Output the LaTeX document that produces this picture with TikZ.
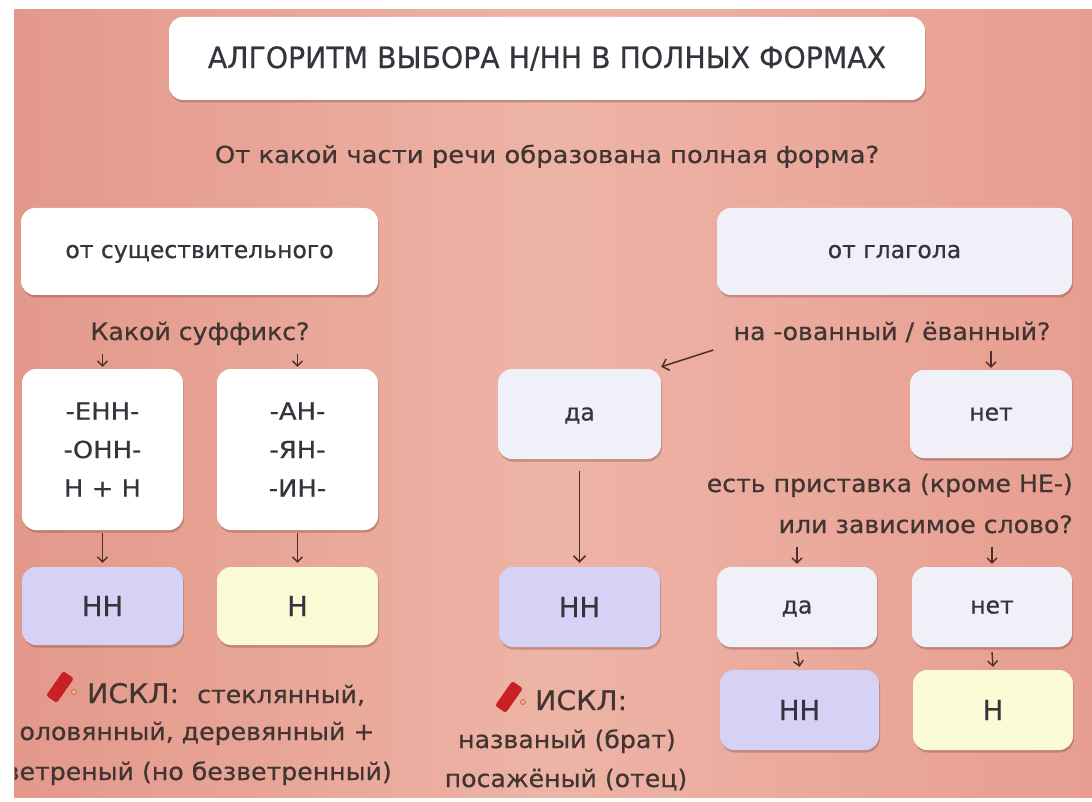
\documentclass[tikz,border=0pt]{standalone}
\usepackage{fontspec}
\setmainfont{DejaVu Sans}[FakeBold=0.6]
\newfontfamily\lblfont{DejaVu Sans}[FakeStretch=1.05,FakeBold=0.6]
\newfontfamily\subfont{DejaVu Sans}[FakeStretch=1.1,FakeBold=0.6]
\newfontfamily\ttlfont{DejaVu Sans}[FakeStretch=0.96,FakeBold=0.5]
\usetikzlibrary{arrows.meta,shadows}
\definecolor{bgl}{RGB}{227,152,138}
\definecolor{bgm}{RGB}{237,180,166}
\definecolor{bgr}{RGB}{231,158,144}
\definecolor{lboxc}{RGB}{240,240,248}
\definecolor{nnc}{RGB}{214,210,246}
\definecolor{nc}{RGB}{250,250,212}
\definecolor{txt}{RGB}{66,52,50}
\definecolor{btxt}{RGB}{52,52,60}
\definecolor{arrc}{RGB}{78,46,42}
\definecolor{shc}{RGB}{120,70,65}
\definecolor{iconred}{RGB}{200,32,36}
\definecolor{dotc}{RGB}{240,170,160}
\begin{document}
\begin{tikzpicture}[x=1pt,y=-1pt,
  box/.style={rectangle, rounded corners=14pt, inner sep=0pt, align=center, text=btxt,
    font=\fontsize{23.5}{28}\selectfont,
    drop shadow={shadow xshift=1pt, shadow yshift=-2.5pt, opacity=0.35, fill=shc}},
  wbox/.style={box, fill=white},
  lbox/.style={box, fill=lboxc},
  word/.style={text height=15pt, text depth=2pt},
  sufbox/.style={wbox, minimum width=161pt, minimum height=161pt, font=\subfont\fontsize{23.5}{38.5}\selectfont},
  nnbox/.style={box, fill=nnc, font=\fontsize{27.5}{33}\selectfont},
  nbox/.style={box, fill=nc, font=\fontsize{27.5}{33}\selectfont},
  lbl/.style={inner sep=0pt, text=txt, font=\lblfont\fontsize{24}{28}\selectfont, anchor=base},
  iskl/.style={lbl, anchor=base west, font=\lblfont\fontsize{27}{32}\selectfont},
  arr/.style={draw=arrc, line width=1.4pt, -{Straight Barb[length=5pt,width=10pt]}},
  arrbig/.style={draw=arrc, line width=1.5pt, -{Straight Barb[length=6pt,width=12pt]}},
  eraser/.style={fill=iconred, rounded corners=2.5pt, minimum width=30pt, minimum height=13pt, inner sep=0pt, rotate=55},
  edot/.style={circle, draw=orange!80!black, fill=dotc, line width=0.6pt, inner sep=0pt, minimum size=5pt}
]
\useasboundingbox (0,0) rectangle (1092,802);
\fill[white] (0,0) rectangle (1092,802);
\shade[left color=bgl, right color=bgr, middle color=bgm] (14.6,10) rectangle (1092,797);

% title and question
\node[wbox, minimum width=756pt, minimum height=83pt, font=\ttlfont\fontsize{29.5}{35}\selectfont] (title) at (547,58.5) {АЛГОРИТМ ВЫБОРА Н/НН В ПОЛНЫХ ФОРМАХ};
\node[lbl, font=\subfont\fontsize{23.5}{28}\selectfont] (q0) at (547,163) {От какой части речи образована полная форма?};

% left branch
\node[wbox, word, minimum width=357pt, minimum height=87pt] (noun) at (199.5,251.5) {от существительного};
\node[lbl] (q1) at (200,340) {Какой суффикс?};
\node[sufbox] (enn) at (102.5,449.5) {-ЕНН-\\-ОНН-\\Н + Н};
\node[sufbox] (an) at (297.5,449.5) {-АН-\\-ЯН-\\-ИН-};
\node[nnbox, minimum width=161pt, minimum height=78pt] (nn1) at (102.5,606) {НН};
\node[nbox, minimum width=161pt, minimum height=78pt] (n1) at (297.5,606) {Н};

% right branch
\node[lbox, word, minimum width=355pt, minimum height=87pt] (verb) at (894.5,251.5) {от глагола};
\node[lbl] (q2) at (892,340) {на -ованный / ёванный?};
\node[lbox, word, minimum width=163pt, minimum height=90pt] (da1) at (579.5,414) {да};
\node[lbox, word, minimum width=162pt, minimum height=88pt] (net1) at (991,414) {нет};
\node[nnbox, minimum width=161pt, minimum height=80pt] (nn2) at (579.5,607) {НН};
\node[lbl, anchor=base east] (q3a) at (1073,492) {есть приставка (кроме НЕ-)};
\node[lbl, anchor=base east] (q3b) at (1073,533) {или зависимое слово?};
\node[lbox, word, minimum width=160pt, minimum height=80pt] (da2) at (797,607) {да};
\node[lbox, word, minimum width=160pt, minimum height=80pt] (net2) at (992,607) {нет};
\node[nnbox, minimum width=159pt, minimum height=80pt] (nn3) at (799.5,710) {НН};
\node[nbox, minimum width=160pt, minimum height=80pt] (n3) at (993,710) {Н};

% exceptions left
\node[eraser] (ic1) at (60,687) {};
\node[edot] (dt1) at (74,692) {};
\node[iskl] (isk1) at (87,703) {ИСКЛ:};
\node[lbl, anchor=base west] (ex1a) at (197,703) {стеклянный,};
\node[lbl] (ex1b) at (197,740) {оловянный, деревянный +};
\begin{scope}
\clip (14.6,10) rectangle (1092,797);
\node[lbl, anchor=base east] (ex1c) at (392,780) {ветреный (но безветренный)};
\end{scope}

% exceptions middle
\node[eraser] (ic2) at (509,697) {};
\node[edot] (dt2) at (523,702) {};
\node[iskl] (isk2) at (535,710) {ИСКЛ:};
\node[lbl] (ex2a) at (567,748) {названый (брат)};
\node[lbl] (ex2b) at (566,787) {посажёный (отец)};

% arrows
\draw[arr] ([yshift=-9pt]q1.south -| enn.north) -- ([yshift=2pt]enn.north);
\draw[arr] ([yshift=-9pt]q1.south -| an.north) -- ([yshift=2pt]an.north);
\draw[arr] ([yshift=-3pt]enn.south) -- ([yshift=4pt]nn1.north);
\draw[arr] ([yshift=-3pt]an.south) -- ([yshift=4pt]n1.north);
\draw[arrbig] ([shift={(-20pt,-18pt)}]q2.west) -- ([yshift=2pt]da1.north east);
\draw[arr] ([yshift=-9pt]q2.south -| net1.north) -- ([yshift=2pt]net1.north);
\draw[arrbig] ([yshift=-12pt]da1.south) -- ([yshift=4pt]nn2.north);
\draw[arr] ([yshift=-13pt]q3b.south -| da2.north) -- ([yshift=3pt]da2.north);
\draw[arr] ([yshift=-13pt]q3b.south -| net2.north) -- ([yshift=3pt]net2.north);
\draw[arr] ([yshift=-5pt]da2.south) -- ([yshift=3pt]nn3.north);
\draw[arr] ([yshift=-5pt]net2.south) -- ([yshift=3pt]n3.north);
\end{tikzpicture}
\end{document}
